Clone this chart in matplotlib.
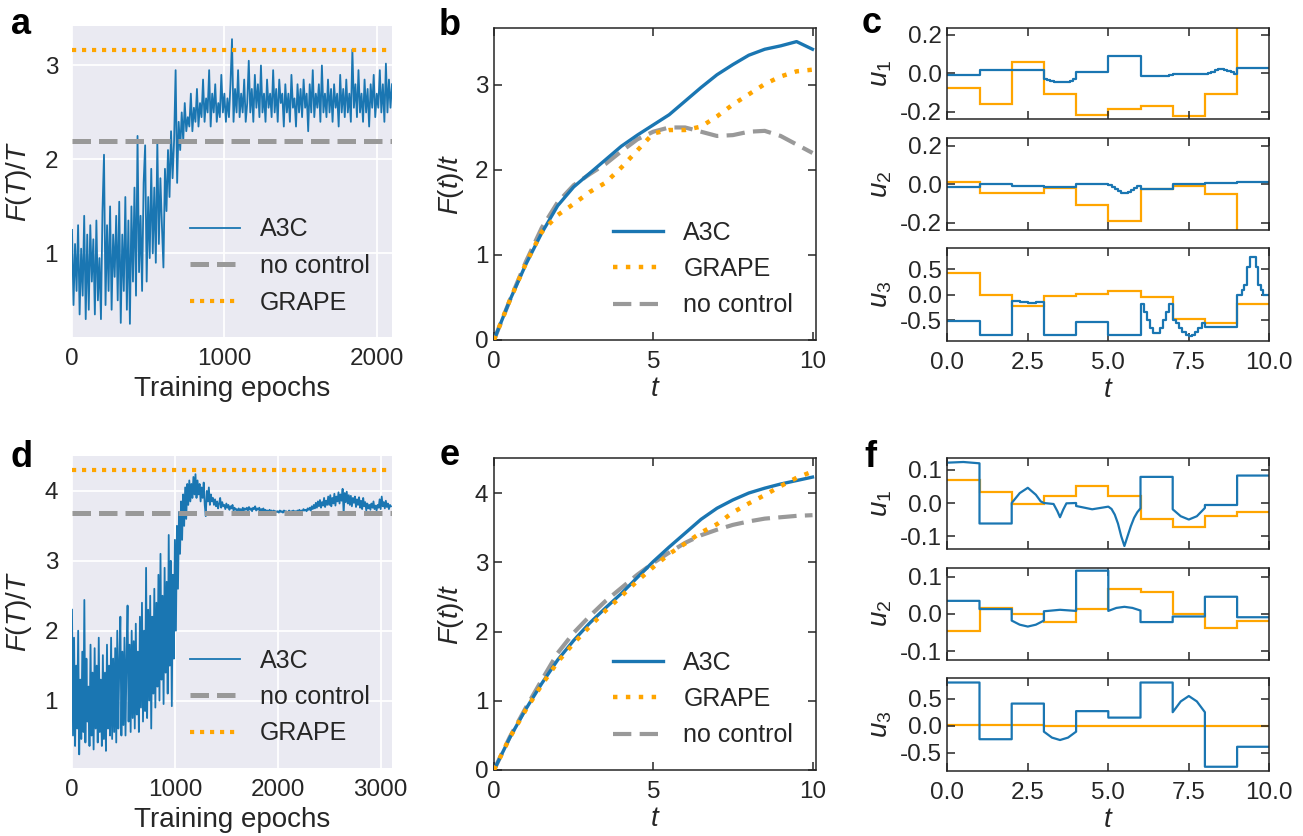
import numpy as np
import matplotlib
matplotlib.use('Agg')
import matplotlib.pyplot as plt

plt.rcParams.update({
    'font.family': ['Liberation Sans', 'DejaVu Sans'],
    'mathtext.fontset': 'custom',
    'mathtext.rm': 'Liberation Sans',
    'mathtext.it': 'Liberation Sans:italic',
    'mathtext.bf': 'Liberation Sans:bold',
    'axes.unicode_minus': False,
    'text.color': '#262626', 'axes.labelcolor': '#262626',
    'xtick.color': '#262626', 'ytick.color': '#262626',
})

BLUE = '#1a76b2'
ORANGE = '#ffa500'
GRAY = '#999999'

# ---------------- data ----------------
# panel a: training curve (every 10 epochs)
A_STEP = 10
a_vals = [1.25, 0.45, 1.1, 0.6, 1.3, 0.35, 1.05, 0.55, 1.4, 0.3, 1.2,
          0.4, 1.3, 0.7, 1.15, 0.35, 1.35, 0.5, 0.95, 0.3, 1.45,
          2.05, 0.45, 1.3, 0.6, 1.5, 0.4, 1.2, 0.75, 1.4, 0.5,
          1.55, 0.26, 1.2, 0.6, 1.6, 0.4, 1.35, 0.25, 1.5, 0.7,
          1.7, 0.55, 2.25, 0.8, 1.4, 0.6, 1.75, 2.15, 0.7, 1.6,
          0.95, 1.9, 1.0, 1.7, 0.9, 2.2, 1.1, 1.8, 1.3, 0.85,
          1.9, 1.45, 2.1, 1.6, 2.3, 1.8, 2.2, 2.95, 1.75, 2.4,
          2.1, 2.5, 2.2, 2.6, 2.3, 2.45, 2.35, 2.7, 2.3, 2.55,
          2.4, 2.75, 2.35, 2.6, 2.45, 2.85, 2.4, 2.65, 2.5, 2.95,
          2.35, 2.7, 2.5, 2.8, 2.4, 2.6, 2.45, 2.9, 2.5, 2.7,
          2.4, 2.65, 2.45, 2.8, 3.28, 2.4, 2.75, 2.5, 2.95, 2.45,
          2.7, 2.5, 2.85, 2.4, 2.6, 3.05, 2.5, 2.75, 2.4, 2.9,
          2.55, 2.8, 2.45, 3.0, 2.5, 2.7, 2.4, 2.85, 2.55, 2.7,
          2.45, 2.95, 2.5, 2.75, 2.4, 2.85, 2.6, 2.7, 2.35, 2.8,
          2.5, 2.7, 2.4, 2.9, 2.55, 2.65, 2.35, 2.8, 2.5, 2.75,
          2.45, 2.85, 2.55, 2.7, 2.3, 2.8, 2.5, 2.95, 2.45, 2.7,
          2.55, 2.8, 2.4, 3.0, 2.5, 2.7, 2.45, 2.85, 2.5, 2.75,
          2.4, 2.8, 2.55, 2.7, 2.35, 2.9, 2.5, 2.75, 2.45, 2.85,
          2.5, 2.7, 2.4, 3.17, 2.55, 2.8, 2.45, 2.95, 2.5, 2.7,
          2.4, 2.85, 2.5, 2.75, 2.35, 2.8, 2.55, 2.9, 2.45, 2.7,
          2.55, 2.95, 2.5, 2.8, 2.4, 3.02, 2.5, 2.85, 2.55, 2.8]
a_noctrl = 2.20
a_grape = 3.16

# panel d: training curve (every 10 epochs)
D_STEP = 10
d_vals = [2.3, 0.5, 1.9, 0.35, 1.5, 0.6, 2.0, 0.23, 1.3, 0.45,
          1.7, 0.55, 2.44, 0.4, 1.6, 0.7, 1.2, 0.35, 1.8, 0.5,
          1.4, 0.3, 1.75, 0.6, 1.5, 0.4, 1.9, 0.55, 1.3, 0.35,
          1.65, 0.45, 1.4, 0.28, 1.8, 0.6, 1.5, 0.5, 1.9, 0.45,
          1.6, 0.55, 1.75, 0.4, 2.0, 0.6, 1.55, 2.2, 0.5, 1.7,
          0.65, 1.9, 0.5, 1.6, 2.36, 0.7, 1.8, 0.55, 2.0, 0.75,
          1.85, 0.6, 2.1, 0.8, 1.7, 0.55, 2.2, 0.9, 2.4, 0.7,
          2.0, 0.85, 2.9, 0.75, 2.3, 1.0, 2.5, 0.6, 2.2, 1.1,
          2.6, 0.9, 2.4, 1.2, 2.8, 1.0, 3.1, 1.3, 2.5, 0.95,
          2.9, 1.4, 2.7, 1.1, 3.37, 1.5, 3.0, 0.92, 2.8, 1.6,
          3.3, 2.0, 3.5, 2.6, 3.7, 3.1, 3.85, 3.3, 3.95, 3.5,
          4.05, 3.6, 4.1, 3.8, 4.15, 3.85, 4.1, 3.9, 4.2, 3.95,
          4.24, 3.9, 4.15, 3.95, 4.1, 3.85, 4.05, 3.9, 4.12, 3.8,
          3.64, 4.0, 3.85, 4.05, 3.8, 3.95, 3.85, 3.9, 3.8, 3.88,
          3.78, 3.85, 3.75, 3.82, 3.9, 3.76, 3.84, 3.78, 3.8, 3.74,
          3.82, 3.76, 3.8, 3.73, 3.78, 3.75, 3.8, 3.72, 3.76, 3.73,
          3.74, 3.71, 3.75, 3.72, 3.74, 3.7, 3.76, 3.72, 3.75, 3.73,
          3.76, 3.72, 3.77, 3.73, 3.75, 3.71, 3.76, 3.74, 3.78, 3.72,
          3.75, 3.73, 3.76, 3.71, 3.74, 3.72, 3.75, 3.7, 3.73, 3.71,
          3.72, 3.7, 3.73, 3.71, 3.72, 3.69, 3.72, 3.7, 3.71, 3.7,
          3.71, 3.69, 3.72, 3.7, 3.71, 3.69, 3.72, 3.7, 3.71, 3.69,
          3.7, 3.72, 3.69, 3.71, 3.7, 3.72, 3.7, 3.71, 3.69, 3.72,
          3.71, 3.73, 3.7, 3.72, 3.71, 3.74, 3.72, 3.73, 3.71, 3.75,
          3.73, 3.76, 3.72, 3.78, 3.74, 3.8, 3.75, 3.83, 3.76, 3.85,
          3.78, 3.87, 3.76, 3.84, 3.79, 3.9, 3.77, 3.86, 3.8, 3.92,
          3.8, 3.94, 3.78, 3.9, 3.82, 3.96, 3.79, 3.92, 3.85, 3.98,
          3.82, 3.95, 3.86, 4.03, 3.68, 3.97, 3.84, 3.99, 3.82, 3.94,
          3.8, 3.93, 3.78, 3.9, 3.83, 3.92, 3.77, 3.88, 3.8, 3.91,
          3.76, 3.86, 3.74, 3.9, 3.78, 3.84, 3.72, 3.82, 3.75, 3.8,
          3.73, 3.82, 3.76, 3.85, 3.74, 3.79, 3.72, 3.8, 3.76, 3.88,
          3.74, 3.92, 3.78, 3.84, 3.75, 3.86, 3.77, 3.82, 3.74, 3.8,
          3.78]
d_noctrl = 3.68
d_grape = 4.30

# panels b, e: F(t)/t
t_curve = [0, 0.5, 1, 1.5, 2, 2.5, 3, 3.5, 4, 4.5, 5, 5.5, 6, 6.5, 7, 7.5, 8, 8.5, 9, 9.5, 10]
b_a3c = [0, 0.47, 0.89, 1.26, 1.58, 1.8, 1.96, 2.12, 2.28, 2.41, 2.53, 2.65, 2.81, 2.97, 3.12,
         3.24, 3.35, 3.42, 3.46, 3.51, 3.42]
b_grape = [0, 0.47, 0.9, 1.27, 1.47, 1.6, 1.74, 1.85, 2.03, 2.23, 2.43, 2.47, 2.47, 2.51, 2.63,
           2.77, 2.89, 3.01, 3.1, 3.16, 3.18]
b_noctrl = [0, 0.47, 0.92, 1.32, 1.62, 1.82, 1.95, 2.07, 2.22, 2.36, 2.45, 2.5, 2.5, 2.45, 2.4,
            2.41, 2.45, 2.46, 2.4, 2.3, 2.2]
e_a3c = [0, 0.47, 0.88, 1.25, 1.59, 1.87, 2.12, 2.34, 2.55, 2.78, 3.01, 3.22, 3.42, 3.62, 3.78,
         3.9, 4.0, 4.07, 4.13, 4.18, 4.23]
e_grape = [0, 0.47, 0.87, 1.23, 1.56, 1.83, 2.07, 2.3, 2.51, 2.73, 2.93, 3.12, 3.27, 3.43, 3.55,
           3.72, 3.85, 3.97, 4.1, 4.22, 4.31]
e_noctrl = [0, 0.48, 0.9, 1.3, 1.69, 1.98, 2.22, 2.44, 2.63, 2.82, 2.99, 3.14, 3.28, 3.39, 3.47,
            3.54, 3.59, 3.63, 3.65, 3.67, 3.68]

# panels c, f: controls; GRAPE piecewise constant on unit intervals
t_edges = [0, 1, 2, 3, 4, 5, 6, 7, 8, 9, 10]
c_u1_grape = [-0.078, -0.16, 0.061, -0.109, -0.218, -0.185, -0.17, -0.225, -0.109, 0.35]
c_u2_grape = [0.014, -0.047, -0.047, -0.021, -0.108, -0.19, -0.026, -0.01, -0.05, -0.35]
c_u3_grape = [0.434, 0.0, -0.224, -0.02, 0.02, 0.066, -0.046, -0.48, -0.56, -0.19]
f_u1_grape = [0.069, 0.033, -0.002, 0.021, 0.052, 0.021, -0.048, -0.072, -0.038, -0.026]
f_u2_grape = [-0.046, 0.015, 0.0, -0.022, 0.014, 0.067, 0.06, -0.001, -0.037, -0.02]
f_u3_grape = [0.01, 0.005, 0.005, 0.003, 0.003, 0.003, 0.0, -0.002, -0.003, -0.003]

# A3C controls in panel c: (breakpoint, value) held until next breakpoint
c_u1_t = [0, 1, 3, 3.1, 3.2, 3.3, 3.4, 3.5, 3.6, 3.7, 3.8, 3.9, 4, 5, 6, 6.3, 6.6, 6.9, 7, 8,
          8.1, 8.2, 8.3, 8.4, 8.5, 8.6, 8.7, 8.8, 8.9, 9, 10]
c_u1_a3c = [-0.007, 0.016, -0.028, -0.035, -0.04, -0.044, -0.046, -0.047, -0.046, -0.043, -0.038,
            -0.031, 0.005, 0.09, -0.012, -0.016, -0.014, -0.01, -0.005, -0.005,
            0.002, 0.009, 0.015, 0.02, 0.021, 0.018, 0.012, 0.005, -0.002, 0.029, 0.029]
c_u2_t = [0, 1, 2, 3, 4, 5, 5.1, 5.2, 5.3, 5.4, 5.5, 5.6, 5.7, 5.8, 5.9, 6, 7, 8, 9, 10]
c_u2_a3c = [-0.014, 0.0, -0.01, -0.014, 0.0, -0.004, -0.013, -0.024, -0.036, -0.045, -0.047,
            -0.04, -0.03, -0.018, -0.008, -0.023, 0.002, 0.009, 0.01, 0.01]
c_u3_t = [0, 1, 2, 2.25, 2.5, 2.75, 3, 4, 5, 6, 6.1, 6.2, 6.3, 6.4, 6.6, 6.7, 6.8, 6.9,
          7.0, 7.1, 7.2, 7.3, 7.4, 7.5, 7.6, 7.7, 7.8, 7.9, 8, 9,
          9.14, 9.21, 9.3, 9.4, 9.59, 9.66, 9.73, 9.81, 10]
c_u3_a3c = [-0.52, -0.80, -0.13, -0.15, -0.16, -0.15, -0.80, -0.53, -0.80, -0.18,
            -0.34, -0.5, -0.66, -0.76, -0.66, -0.5, -0.34, -0.18,
            -0.49, -0.56, -0.65, -0.73, -0.79, -0.82, -0.79, -0.73, -0.65, -0.56, -0.63, 0.0,
            0.09, 0.19, 0.55, 0.75, 0.55, 0.19, 0.09, 0.0, 0.0]

# A3C controls in panel f: polyline points (t, u)
f_u1_t = [0, 0.5, 1, 1, 2, 2, 2.25, 2.5, 2.75, 2.9, 3.0, 3.3, 3.42, 3.5, 3.6, 3.7, 4.0,
          4.0, 4.5, 5.0, 5.1, 5.2, 5.3, 5.4, 5.5, 5.6, 5.7, 5.8, 5.9, 6.0, 6.0, 7.0,
          7.0, 7.25, 7.5, 7.75, 8.0, 8.0, 9.0, 9.0, 10]
f_u1_a3c = [0.122, 0.124, 0.12, -0.062, -0.062, 0.0, 0.03, 0.046, 0.025, 0.005, 0.0,
            -0.003, -0.025, -0.043, -0.02, -0.001, 0.0,
            -0.009, -0.019, -0.011, -0.018, -0.035, -0.062, -0.1, -0.13, -0.1, -0.07, -0.045,
            -0.028, -0.016, 0.079, 0.079,
            -0.019, -0.04, -0.05, -0.04, -0.015, -0.006, -0.006, 0.083, 0.083]
f_u2_t = [0, 1, 1, 2, 2, 2.25, 2.5, 2.75, 3, 3, 3.5, 4, 4, 5, 5, 5.25, 5.5, 5.75, 6, 6, 7,
          7, 8, 8, 9, 9, 10]
f_u2_a3c = [0.035, 0.035, 0.013, 0.013, -0.018, -0.029, -0.034, -0.029, -0.018, 0.007, 0.011,
            0.008, 0.116, 0.116, 0.008, 0.016, 0.019, 0.016, 0.009, -0.022, -0.022,
            -0.007, -0.007, 0.046, 0.046, -0.009, -0.009]
f_u3_t = [0, 1, 1, 2, 2, 3, 3, 3.25, 3.5, 3.75, 4, 4, 5, 5, 6, 6, 7, 7, 7.25, 7.5, 7.75, 8,
          8, 9, 9, 10]
f_u3_a3c = [0.8, 0.8, -0.25, -0.25, 0.41, 0.41, -0.11, -0.22, -0.265, -0.22, -0.11, 0.27,
            0.27, 0.15, 0.15, 0.8, 0.8, 0.25, 0.45, 0.55, 0.45, 0.25, -0.76, -0.76, -0.39, -0.39]

# ---------------- figure ----------------
W, H = 1303, 836
fig = plt.figure(figsize=(W / 100, H / 100), dpi=100)


def px_axes(l, t, r, b):
    return fig.add_axes([l / W, 1 - b / H, (r - l) / W, (b - t) / H])


TICK = 17.5
LAB = 20
LEG = 18


def training(ax, vals, step, noctrl, grape, xlim, ylim, xticks, yticks):
    ax.set_facecolor('#EAEAF2')
    for s in ax.spines.values():
        s.set_visible(False)
    ax.grid(True, color='white', lw=1.3)
    ax.set_axisbelow(True)
    ep = np.arange(len(vals)) * step
    ax.plot(ep, vals, color=BLUE, lw=1.3, label='A3C')
    ax.axhline(noctrl, color=GRAY, lw=3.6, ls=(0, (3.7, 1.6)), label='no control')
    ax.axhline(grape, color=ORANGE, lw=3.0, ls=(0, (1, 1.4)), label='GRAPE')
    ax.set_xlim(*xlim)
    ax.set_ylim(*ylim)
    ax.set_xticks(xticks)
    ax.set_yticks(yticks)
    ax.tick_params(length=0, labelsize=TICK)
    ax.tick_params(axis='x', pad=8)
    ax.tick_params(axis='y', pad=10)
    ax.set_xlabel('Training epochs', fontsize=LAB, labelpad=4)
    ax.set_ylabel('$F(T)/T$', fontsize=LAB, labelpad=8)
    ax.legend(loc='lower right', frameon=False, fontsize=LEG)


def boxed(ax):
    for s in ax.spines.values():
        s.set_linewidth(1.1)
        s.set_color('#262626')
    ax.tick_params(direction='in', top=True, right=True, length=6, width=1.1,
                   labelsize=TICK)
    ax.tick_params(axis='x', pad=8)
    ax.tick_params(axis='y', pad=4)


def fcurve(ax, a3c, grape, noc, ylim, yticks):
    l3, = ax.plot(t_curve, noc, color=GRAY, lw=3.0, ls=(0, (4.4, 2.0)), label='no control', zorder=2)
    l1, = ax.plot(t_curve, a3c, color=BLUE, lw=2.4, label='A3C', zorder=3)
    l2, = ax.plot(t_curve, grape, color=ORANGE, lw=3.2, ls=(0, (1, 1.9)), label='GRAPE', zorder=4)
    ax.set_xlim(0, 10.1)
    ax.set_ylim(*ylim)
    ax.set_xticks([0, 5, 10])
    ax.set_yticks(yticks)
    boxed(ax)
    ax.set_xlabel('$t$', fontsize=LAB, labelpad=2)
    ax.set_ylabel('$F(t)/t$', fontsize=LAB, labelpad=6)
    ax.legend(handles=[l1, l2, l3], loc='lower right', frameon=False, fontsize=LEG)


def control(ax, tb, ub, ug, ylim, yticks, label, last, steps):
    ax.plot(tb, ub, color=BLUE, lw=1.6, drawstyle='steps-post' if steps else 'default')
    ax.stairs(ug, t_edges, baseline=None, color=ORANGE, lw=1.6)
    ax.set_xlim(0, 10)
    ax.set_ylim(*ylim)
    ax.set_xticks([0, 2.5, 5, 7.5, 10])
    ax.set_yticks(yticks)
    boxed(ax)
    ax.set_ylabel(label, fontsize=LAB, labelpad=4)
    if last:
        ax.set_xlabel('$t$', fontsize=LAB, labelpad=2)
    else:
        ax.tick_params(labelbottom=False)


ax_a = px_axes(72, 26, 392, 337)
training(ax_a, a_vals, A_STEP, a_noctrl, a_grape, (0, 2100), (0.11, 3.42), [0, 1000, 2000], [1, 2, 3])
ax_d = px_axes(72, 456, 392, 768)
training(ax_d, d_vals, D_STEP, d_noctrl, d_grape, (0, 3110), (0.035, 4.5), [0, 1000, 2000, 3000], [1, 2, 3, 4])

ax_b = px_axes(494, 28, 815.7, 340)
fcurve(ax_b, b_a3c, b_grape, b_noctrl, (0, 3.67), [0, 1, 2, 3])
ax_e = px_axes(494, 457.7, 815.7, 770)
fcurve(ax_e, e_a3c, e_grape, e_noctrl, (0, 4.51), [0, 1, 2, 3, 4])

L, R = 947.3, 1269.3
ax = px_axes(L, 28, R, 119.3)
control(ax, c_u1_t, c_u1_a3c, c_u1_grape, (-0.24, 0.236), [-0.2, 0.0, 0.2], '$u_1$', False, True)
ax = px_axes(L, 137.7, R, 230)
control(ax, c_u2_t, c_u2_a3c, c_u2_grape, (-0.238, 0.243), [-0.2, 0.0, 0.2], '$u_2$', False, True)
ax = px_axes(L, 248.3, R, 340.7)
control(ax, c_u3_t, c_u3_a3c, c_u3_grape, (-0.908, 0.914), [-0.5, 0.0, 0.5], '$u_3$', True, True)

ax = px_axes(L, 457.7, R, 549.3)
control(ax, f_u1_t, f_u1_a3c, f_u1_grape, (-0.14, 0.137), [-0.1, 0.0, 0.1], '$u_1$', False, False)
ax = px_axes(L, 567.7, R, 659.7)
control(ax, f_u2_t, f_u2_a3c, f_u2_grape, (-0.123, 0.124), [-0.1, 0.0, 0.1], '$u_2$', False, False)
ax = px_axes(L, 678.3, R, 770.7)
control(ax, f_u3_t, f_u3_a3c, f_u3_grape, (-0.833, 0.878), [-0.5, 0.0, 0.5], '$u_3$', True, False)

for letter, x, y in [('a', 11, 34), ('b', 439, 35), ('c', 862, 33),
                     ('d', 11, 467), ('e', 440, 465), ('f', 864, 467)]:
    fig.text(x / W, 1 - y / H, letter, fontsize=26, fontweight='bold', color='black',
             ha='left', va='baseline')

fig.savefig('out.png', dpi=100)
